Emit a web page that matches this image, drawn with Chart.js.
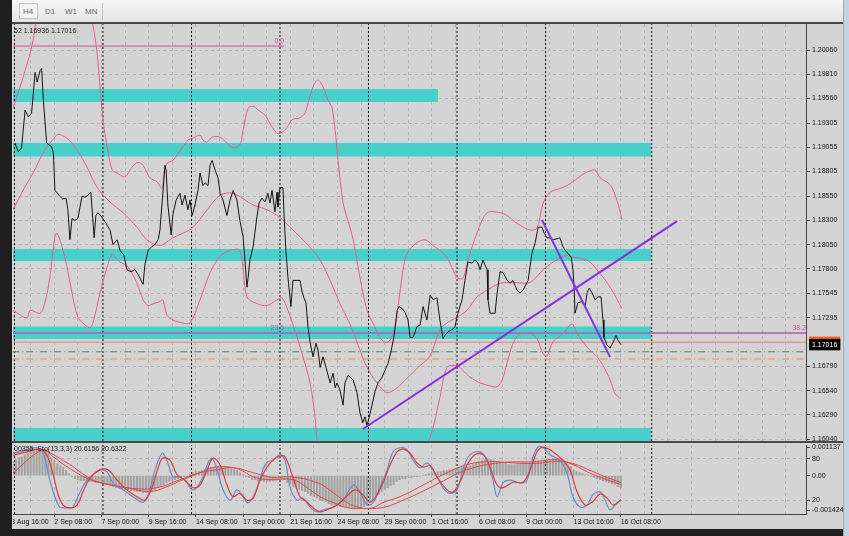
<!DOCTYPE html>
<html><head><meta charset="utf-8">
<script src="https://cdn.jsdelivr.net/npm/chart.js@4.4.0/dist/chart.umd.min.js"></script>
<style>
html,body{margin:0;padding:0;background:#1f1f1f;width:849px;height:536px;overflow:hidden;font-family:"Liberation Sans",Arial,sans-serif;}
#toolbar{position:absolute;left:12px;top:0;width:831px;height:22px;background:linear-gradient(#f7f7f7,#e4e4e4);}
#tbline{position:absolute;left:12px;top:22px;width:831px;height:2px;background:#4a4a4a;}
.tab{position:absolute;top:5px;height:14px;line-height:14px;font-size:8px;color:#666;}
#tabsel{position:absolute;left:7px;top:3px;width:19px;height:16px;border:1px solid #c4c4c4;background:#f4f4f4;box-sizing:border-box;}
#tdiv{position:absolute;left:90px;top:3px;width:1px;height:17px;background:#c8c8c8;}
#chartbg{position:absolute;left:12px;top:24px;width:831px;height:505px;background:#d4d4d4;}
#scroll{position:absolute;left:843px;top:0;width:6px;height:536px;background:#c3d3e3;border-left:1px solid #9aa8b8;box-sizing:border-box;}
#sepline{position:absolute;left:12px;top:441px;width:831px;height:2px;background:#4a4a4a;}
canvas{position:absolute;}
</style></head>
<body>
<div id="toolbar"><div id="tabsel"></div>
<span class="tab" style="left:11px">H4</span><span class="tab" style="left:33px">D1</span>
<span class="tab" style="left:53px">W1</span><span class="tab" style="left:73px">MN</span><div id="tdiv"></div></div>
<div id="tbline"></div>
<div id="chartbg"></div>
<div id="scroll"></div>
<canvas id="main" width="830" height="418" style="left:13px;top:24px"></canvas>
<div id="sepline"></div>
<canvas id="sub" width="830" height="87" style="left:13px;top:442px"></canvas>
<script>
// ---------- data (x = H4 bar number, 0 = left edge of the window) ----------
const priceTicks = [1.20060,1.19810,1.19560,1.19305,1.19055,1.18805,1.18550,1.18300,1.18050,1.17800,1.17545,1.17295,1.16790,1.16540,1.16290,1.16040];
const askPrice = 1.17040;
const bidPrice = 1.17016;
const dateLabels = ["28 Aug 16:00","2 Sep 08:00","7 Sep 00:00","9 Sep 16:00","14 Sep 08:00","17 Sep 00:00","21 Sep 16:00","24 Sep 08:00","29 Sep 00:00","1 Oct 16:00","6 Oct 08:00","9 Oct 00:00","13 Oct 16:00","16 Oct 08:00"];
const firstLabelBar = -2;
const weekSepBars = [0.5,30.5,60.5,90.5,120.5,150.5,180.5,216.5];

const priceLine = [[0.6,1.1910],[1.8,1.1901],[2.9,1.1905],[4.1,1.1944],[5.2,1.1937],[6.3,1.1941],[7.5,1.1983],[8.2,1.1973],[9.2,1.1985],[9.7,1.1987],[10.3,1.1954],[11.4,1.1910],[13.1,1.1906],[13.7,1.1900],[14.2,1.1861],[15.9,1.1855],[16.9,1.1852],[18.0,1.1853],[18.6,1.1841],[19.3,1.1810],[20.0,1.1832],[21.0,1.1830],[22.0,1.1832],[23.4,1.1855],[24.4,1.1854],[25.4,1.1856],[26.4,1.1859],[27.5,1.1812],[28.1,1.1835],[28.8,1.1838],[30.5,1.1832],[31.9,1.1825],[32.9,1.1820],[33.9,1.1805],[35.3,1.1810],[36.3,1.1799],[37.6,1.1794],[38.6,1.1779],[40.0,1.1777],[41.4,1.1779],[42.4,1.1774],[44.1,1.1764],[44.7,1.1784],[45.8,1.1799],[47.1,1.1803],[48.1,1.1805],[49.2,1.1810],[49.8,1.1820],[50.8,1.1858],[51.5,1.1887],[51.9,1.1882],[52.5,1.1846],[53.6,1.1815],[54.2,1.1836],[55.3,1.1851],[56.6,1.1858],[57.3,1.1846],[58.3,1.1856],[59.3,1.1841],[60.0,1.1851],[60.7,1.1835],[61.7,1.1846],[62.7,1.1861],[63.4,1.1879],[64.4,1.1866],[65.1,1.1869],[66.1,1.1866],[66.8,1.1887],[67.5,1.1892],[68.5,1.1882],[69.5,1.1874],[70.2,1.1858],[71.2,1.1851],[72.5,1.1835],[73.6,1.1851],[74.6,1.1861],[75.9,1.1851],[76.9,1.1830],[78.0,1.1813],[79.3,1.1761],[79.7,1.1771],[80.3,1.1789],[81.4,1.1803],[82.7,1.1834],[83.4,1.1848],[84.4,1.1853],[85.4,1.1849],[86.4,1.1858],[87.1,1.1848],[87.8,1.1861],[88.8,1.1839],[89.5,1.1859],[89.8,1.1844],[90.5,1.1864],[91.5,1.1864],[91.9,1.1834],[92.5,1.1799],[93.2,1.1771],[94.2,1.1741],[94.9,1.1768],[96.3,1.1768],[97.3,1.1768],[98.0,1.1756],[98.6,1.1750],[99.3,1.1745],[100.0,1.1720],[100.7,1.1704],[101.7,1.1689],[102.7,1.1703],[103.4,1.1696],[104.1,1.1678],[105.1,1.1689],[106.1,1.1678],[107.5,1.1662],[108.5,1.1672],[109.2,1.1657],[109.8,1.1662],[110.8,1.1655],[111.9,1.1639],[112.5,1.1662],[113.6,1.1670],[115.3,1.1665],[116.6,1.1652],[117.6,1.1631],[118.6,1.1621],[119.3,1.1627],[120.0,1.1618],[120.7,1.1626],[121.7,1.1639],[122.7,1.1653],[123.7,1.1662],[125.1,1.1668],[126.1,1.1675],[127.1,1.1682],[128.1,1.1694],[129.2,1.1711],[130.2,1.1737],[130.8,1.1741],[131.9,1.1739],[132.9,1.1735],[133.9,1.1727],[134.6,1.1709],[135.6,1.1709],[136.9,1.1720],[138.0,1.1722],[139.0,1.1741],[140.3,1.1727],[141.4,1.1753],[142.4,1.1748],[143.7,1.1750],[144.7,1.1727],[145.8,1.1708],[146.4,1.1711],[147.5,1.1715],[148.8,1.1717],[149.8,1.1720],[150.8,1.1734],[152.2,1.1748],[153.2,1.1768],[154.2,1.1787],[155.6,1.1786],[156.6,1.1789],[157.6,1.1786],[158.3,1.1779],[159.3,1.1789],[160.7,1.1779],[161.0,1.1748],[161.7,1.1734],[163.4,1.1734],[164.1,1.1755],[165.1,1.1777],[166.1,1.1776],[167.5,1.1768],[168.5,1.1765],[169.5,1.1768],[170.8,1.1758],[171.9,1.1755],[172.9,1.1758],[174.6,1.1768],[175.9,1.1796],[177.0,1.1807],[178.0,1.1823],[179.3,1.1823],[180.0,1.1817],[181.0,1.1812],[182.0,1.1812],[183.1,1.1810],[184.4,1.1811],[185.4,1.1812],[186.4,1.1803],[187.1,1.1799],[188.1,1.1796],[189.2,1.1792],[189.8,1.1779],[190.2,1.1761],[190.5,1.1734],[191.5,1.1745],[192.9,1.1746],[193.9,1.1741],[194.6,1.1755],[195.3,1.1760],[196.3,1.1755],[197.3,1.1748],[198.3,1.1751],[199.3,1.1751],[200.0,1.1727],[200.3,1.1709],[201.4,1.1701],[202.4,1.1698],[203.4,1.1704],[204.4,1.1711],[205.1,1.1706],[206.1,1.17016]];

const bbUpper = [[0,1.1946],[2.4,1.1968],[4.1,1.1985],[5.8,1.2003],[6.8,1.2016],[7.8,1.2035],[10.8,1.2078],[15.9,1.2109],[21,1.2104],[24.4,1.2073],[27.1,1.2032],[28.5,1.2003],[29.5,1.1968],[30.5,1.1934],[31.9,1.1906],[33.6,1.1882],[35.3,1.1879],[38.0,1.1875],[40.3,1.1885],[42.4,1.1890],[44.1,1.1887],[46.4,1.1874],[48.8,1.1870],[50.5,1.1863],[51.2,1.1879],[52.2,1.1889],[54.2,1.1892],[57.3,1.1905],[59.3,1.1913],[61.0,1.1915],[63.4,1.1918],[64.4,1.1913],[65.8,1.1911],[67.5,1.1916],[70.2,1.1916],[72.5,1.1910],[74.6,1.1905],[76.9,1.1908],[78.0,1.1923],[79.7,1.1946],[81.4,1.1948],[83.1,1.1944],[85.4,1.1939],[87.1,1.1930],[89.5,1.1920],[91.2,1.1921],[92.9,1.1926],[94.6,1.1934],[97.3,1.1936],[99.0,1.1941],[100.0,1.1951],[101.7,1.1968],[103.4,1.1975],[105.1,1.1968],[106.8,1.1954],[108.1,1.1947],[109.2,1.1923],[110.2,1.1892],[111.9,1.1848],[114.2,1.1823],[115.3,1.1810],[117.6,1.1771],[120.0,1.1737],[122.0,1.1724],[124.4,1.1709],[126.1,1.1704],[127.8,1.1706],[129.5,1.1720],[130.5,1.1740],[132.2,1.1779],[133.6,1.1796],[136.9,1.1807],[139.7,1.1810],[142.4,1.1804],[144.7,1.1799],[147.1,1.1792],[150.5,1.1771],[152.5,1.1770],[154.2,1.1789],[157.3,1.1817],[160.7,1.1838],[165.1,1.1838],[167.5,1.1835],[170.8,1.1827],[175.3,1.1820],[177.6,1.1822],[179.7,1.1848],[182.0,1.1859],[185.4,1.1863],[187.8,1.1866],[189.8,1.1870],[193.9,1.1879],[197.3,1.1882],[199.0,1.1874],[202.4,1.1867],[204.7,1.1851],[206.4,1.1831]];
const bbMiddle = [[0,1.1841],[3.4,1.1861],[6.8,1.1879],[10.8,1.1903],[14.2,1.1916],[15.3,1.1919],[18.3,1.1915],[21.7,1.1903],[25.1,1.1885],[28.5,1.1864],[32.9,1.1849],[37.3,1.1838],[42.0,1.1823],[45.4,1.1810],[49.8,1.1804],[54.2,1.1812],[60.7,1.1822],[65.8,1.1841],[70.2,1.1856],[74.6,1.1858],[81.4,1.1846],[86.1,1.1841],[90.5,1.1833],[93.9,1.1823],[97.3,1.1813],[100.7,1.1802],[104.1,1.1789],[107.5,1.1768],[110.8,1.1744],[114.2,1.1723],[117.6,1.1696],[120.0,1.1678],[123.4,1.1662],[126.8,1.1652],[130.2,1.1657],[133.6,1.1667],[138.0,1.1680],[141.4,1.1690],[144.7,1.1717],[147.1,1.1724],[150.5,1.1730],[153.9,1.1737],[157.3,1.1751],[160.7,1.1758],[165.1,1.1765],[169.5,1.1766],[174.2,1.1765],[176.3,1.1768],[179.7,1.1779],[183.1,1.1787],[187.8,1.1794],[189.8,1.1792],[194.6,1.1789],[198.0,1.1779],[202.4,1.1761],[206.4,1.1739]];
const bbLower = [[0,1.1737],[4.7,1.1729],[5.8,1.1737],[9.2,1.1734],[10.8,1.1745],[12.5,1.1771],[14.2,1.1813],[14.9,1.1817],[16.6,1.1803],[18.3,1.1782],[20.0,1.1755],[22.0,1.1730],[24.4,1.1722],[26.1,1.1719],[27.1,1.1724],[29.5,1.1755],[31.9,1.1782],[33.6,1.1796],[34.6,1.1792],[36.3,1.1787],[39.0,1.1782],[42.0,1.1765],[44.1,1.1748],[45.8,1.1742],[47.5,1.1744],[49.8,1.1746],[50.8,1.1748],[52.2,1.1732],[54.2,1.1727],[57.6,1.1724],[60.0,1.1724],[63.4,1.1748],[66.8,1.1776],[70.2,1.1793],[73.6,1.1799],[76.9,1.1799],[79.3,1.1751],[82.7,1.1744],[86.1,1.1742],[89.5,1.1748],[91.2,1.1750],[93.2,1.1737],[96.3,1.1709],[98.3,1.1689],[100.7,1.1662],[102.4,1.1627],[103.1,1.1603],[105.8,1.1572],[112.5,1.1550],[121.0,1.1560],[129.5,1.1575],[136.3,1.1580],[141.4,1.1606],[144.7,1.1647],[147.1,1.1678],[150.5,1.1680],[152.5,1.1675],[154.9,1.1668],[158.3,1.1662],[161.7,1.1659],[164.1,1.1658],[165.8,1.1665],[167.5,1.1683],[169.5,1.1703],[171.9,1.1713],[175.3,1.1713],[177.6,1.1708],[179.7,1.1692],[181.0,1.1690],[183.1,1.1705],[186.4,1.1713],[189.5,1.1723],[191.2,1.1713],[194.6,1.1699],[198.0,1.1689],[200.0,1.1680],[202.4,1.1665],[204.1,1.1651],[205.8,1.1646]];

const zoneTop    = [1.19657,1.19099,1.18004,1.17203,1.16154];
const zoneBottom = [1.19523,1.18960,1.17880,1.17074,1.16000];
const zoneEndBar = [144.1,216.3,216.3,216.3,216.3];
const fibZero = 1.20102, fibZeroEndBar = 91.9;
const fibLevel = 1.17136;
const greenLevel = 1.16942, orangeLevel = 1.16867;
const trendUp = [[118.6,1.16144],[225.1,1.18293]];
const trendDown = [[179.3,1.18304],[202.4,1.16888]];

const macdHist = [0.00052,0.00059,0.00067,0.00070,0.00078,0.00085,0.00089,0.00093,0.00096,0.00096,0.00096,0.00093,0.00082,0.00067,0.00056,0.00045,0.00037,0.00030,0.00019,0.00007,
-0.00004,-0.00011,-0.00015,-0.00019,-0.00019,-0.00022,-0.00022,-0.00022,-0.00026,-0.00026,-0.00026,-0.00030,-0.00033,-0.00037,-0.00041,-0.00045,-0.00048,-0.00048,-0.00052,-0.00052,
-0.00056,-0.00056,-0.00059,-0.00059,-0.00063,-0.00063,-0.00059,-0.00056,-0.00052,-0.00045,-0.00041,-0.00033,-0.00026,-0.00022,-0.00019,-0.00015,-0.00011,-0.00007,-0.00004,-0.00004,
0.00004,0.00011,0.00015,0.00015,0.00019,0.00022,0.00026,0.00030,0.00030,0.00033,0.00033,0.00033,0.00030,0.00030,0.00026,0.00022,0.00019,0.00011,0.00004,-0.00004,
-0.00007,-0.00015,-0.00015,-0.00019,-0.00019,-0.00022,-0.00022,-0.00022,-0.00019,-0.00019,-0.00015,-0.00011,-0.00015,-0.00026,-0.00033,-0.00041,-0.00045,-0.00052,-0.00056,-0.00059,
-0.00067,-0.00074,-0.00078,-0.00082,-0.00089,-0.00093,-0.00096,-0.00104,-0.00108,-0.00108,-0.00111,-0.00115,-0.00115,-0.00119,-0.00119,-0.00122,-0.00122,-0.00119,-0.00119,-0.00115,
-0.00108,-0.00100,-0.00093,-0.00082,-0.00070,-0.00059,-0.00052,-0.00045,-0.00037,-0.00033,-0.00022,-0.00015,-0.00011,-0.00011,-0.00007,-0.00007,-0.00004,-0.00004,-0.00002,0.00001,
0.00004,0.00007,0.00011,0.00011,0.00015,0.00015,0.00019,0.00019,0.00022,0.00022,0.00026,0.00026,0.00030,0.00033,0.00033,0.00037,0.00041,0.00045,0.00052,0.00056,
0.00059,0.00059,0.00059,0.00056,0.00052,0.00048,0.00045,0.00045,0.00041,0.00041,0.00041,0.00045,0.00045,0.00048,0.00048,0.00048,0.00052,0.00052,0.00052,0.00052,
0.00056,0.00056,0.00059,0.00063,0.00063,0.00063,0.00056,0.00048,0.00041,0.00033,0.00022,0.00015,0.00011,0.00007,0.00004,0.00001,-0.00004,-0.00007,-0.00011,-0.00015,
-0.00019,-0.00022,-0.00026,-0.00030,-0.00033,-0.00041,-0.00045];
const macdMin = -0.001424, macdMax = 0.001137;
const stochLevels = [80, 20];

const stochMain = [[0,88],[4.7,93],[8.1,96],[10.2,88],[12.5,49],[14.2,25],[15.9,10],[18.3,9],[20.3,10],[22.0,25],[24.4,45],[27.1,57],[29.5,64],[31.9,61],[33.9,45],[37.3,35],[40.7,25],[44.1,17],[46.4,35],[48.1,64],[49.8,83],[50.8,88],[52.5,74],[54.2,54],[56.6,54],[59.0,45],[60.7,35],[62.4,39],[64.4,54],[66.1,74],[67.5,81],[69.2,64],[71.2,35],[73.6,20],[75.9,35],[78.0,25],[79.7,16],[82.0,30],[84.7,64],[86.1,75],[88.1,78],[90.5,86],[92.2,78],[93.9,39],[96.3,20],[98.3,23],[100.7,10],[103.1,3],[105.1,6],[108.5,10],[111.9,20],[115.3,42],[117.6,32],[120.0,13],[122.0,16],[124.4,39],[126.8,64],[128.8,90],[131.2,96],[133.6,93],[135.6,78],[138.0,67],[140.3,74],[142.4,64],[145.8,38],[148.1,30],[150.5,35],[152.5,64],[154.9,86],[158.3,90],[160.7,78],[162.7,49],[164.1,25],[166.1,45],[168.5,49],[171.9,45],[174.2,49],[176.3,83],[178.0,97],[179.7,96],[182.0,86],[185.4,78],[187.8,59],[189.8,25],[192.2,10],[194.6,13],[196.6,28],[199.0,32],[200.7,20],[202.4,6],[204.1,13],[206.1,20.6156]];
const stochSignal = [[0,85],[4.7,90],[9.2,94],[11.5,85],[13.6,57],[15.3,28],[17.0,13],[19.3,9],[21.7,13],[23.7,32],[26.1,52],[29.5,64],[32.2,64],[35.3,49],[38.6,35],[42.0,25],[44.7,20],[47.1,38],[49.2,67],[50.8,81],[53.2,78],[55.6,57],[58.3,49],[61.0,38],[63.4,42],[65.8,64],[67.8,81],[70.2,71],[72.5,42],[74.6,25],[76.9,30],[79.3,20],[81.4,23],[83.7,49],[86.1,68],[88.1,78],[90.5,84],[92.2,83],[94.6,57],[97.3,25],[99.7,17],[101.7,9],[104.1,3],[106.4,6],[109.8,13],[112.5,23],[115.9,35],[118.6,28],[121.0,17],[123.4,28],[125.8,49],[127.8,71],[130.2,90],[132.2,94],[134.6,88],[136.9,74],[139.0,68],[141.4,70],[143.7,54],[147.1,35],[149.2,32],[151.5,46],[153.9,71],[156.6,86],[159.3,86],[161.7,68],[164.1,42],[166.1,38],[169.5,46],[172.9,46],[175.3,64],[177.6,90],[179.7,97],[183.1,90],[186.4,78],[188.8,64],[191.2,32],[193.9,13],[196.3,17],[199.0,29],[201.4,23],[203.4,13],[206.1,20.6322]];
const macdLineA = [[0,0.00085],[9.2,0.00096],[18.3,0.00048],[25.1,-0.00004],[29.5,-0.00026],[38.6,-0.00045],[46.4,-0.00059],[52.2,-0.00041],[57.6,-0.00015],[63.4,0.00011],[67.8,0.00030],[72.5,0.00033],[76.9,0.00022],[81.4,-0.00004],[86.1,-0.00015],[94.9,-0.00015],[99.7,-0.00045],[104.1,-0.00078],[108.5,-0.00100],[113.2,-0.00119],[117.6,-0.00122],[122.0,-0.00119],[125.4,-0.00100],[131.2,-0.00078],[138.0,-0.00041],[145.8,0.00004],[153.9,0.00041],[161.7,0.00052],[168.5,0.00048],[176.3,0.00045],[184.4,0.00052],[189.8,0.00045],[196.6,0.00015],[201.4,-0.00007],[206.1,-0.00026]];
const macdLineB = [[0,0.00011],[10.2,0.00096],[13.6,0.00070],[18.3,0.00033],[26.1,-0.00015],[32.9,-0.00033],[40.7,-0.00048],[48.8,-0.00045],[56.6,-0.00015],[63.4,0.00011],[69.2,0.00022],[74.6,0.00030],[81.4,0.00011],[88.1,-0.00007],[93.9,-0.00004],[103.1,-0.00026],[108.5,-0.00063],[113.2,-0.00100],[117.6,-0.00119],[122.0,-0.00122],[126.8,-0.00115],[131.2,-0.00096],[138.0,-0.00063],[144.7,-0.00026],[153.9,0.00022],[165.1,0.00048],[176.3,0.00052],[184.4,0.00059],[189.8,0.00041],[196.6,0.00004],[206.1,-0.00033]];

// ---------- drawing ----------
const X_MIN = 0, X_MAX = 268.8;
const Y_MIN = 1.1602, Y_MAX = 1.2033;
const FONT = {family:'"Liberation Sans", Arial, sans-serif', size:7};
const GRID = '#b6b6b6', FRAME = '#444';
const pts = a => a.map(([x,y]) => ({x, y}));
const hseg = (y, x0, x1) => [{x:x0,y},{x:x1,y}];
const gridBars = []; for (let b = firstLabelBar; b <= X_MAX; b += 8) gridBars.push(b);

const textPlugin = {
  id: 'txt',
  afterDatasetsDraw(chart, args, opts) {
    const ctx = chart.ctx;
    (opts.items || []).forEach(it => {
      ctx.save();
      ctx.font = '7px "Liberation Sans", Arial, sans-serif';
      ctx.fillStyle = it.color;
      ctx.textAlign = it.align || 'left';
      ctx.textBaseline = it.base || 'middle';
      const x = it.px != null ? it.px : chart.scales.x.getPixelForValue(it.x);
      const y = it.py != null ? it.py : chart.scales[it.axis || 'y'].getPixelForValue(it.y);
      ctx.fillText(it.text, x + (it.dx || 0), y + (it.dy || 0));
      ctx.restore();
    });
  }
};

// main window datasets
const mainSets = [];
zoneTop.forEach((t, i) => {
  mainSets.push({data: hseg(t, -5, zoneEndBar[i]), borderColor:'rgba(0,0,0,0)', borderWidth:0, backgroundColor:'#48d1cc', fill:'+1', order:100});
  mainSets.push({data: hseg(zoneBottom[i], -5, zoneEndBar[i]), borderColor:'rgba(0,0,0,0)', borderWidth:0, fill:false, order:100});
});
weekSepBars.forEach(s => mainSets.push({data:[{x:s,y:Y_MIN},{x:s,y:Y_MAX}], borderColor:'#111', borderWidth:1, borderDash:[2,2], order:90}));
mainSets.push({data: hseg(fibZero, -5, fibZeroEndBar), borderColor:'#d6529a', borderWidth:1, order:60});
mainSets.push({data: hseg(fibLevel, -5, 300), borderColor:'#b05cb6', borderWidth:1.5, order:60});
mainSets.push({data: hseg(askPrice, -5, 300), borderColor:'#e69a8c', borderWidth:1.6, order:60});
mainSets.push({data: hseg(greenLevel, -5, 300), borderColor:'#3f8f45', borderWidth:1, borderDash:[7,3,1,3], order:60});
mainSets.push({data: hseg(orangeLevel, -5, 300), borderColor:'#f08a5a', borderWidth:1, borderDash:[7,3,1,3], order:60});
[bbUpper, bbMiddle, bbLower].forEach(a => mainSets.push({data: pts(a), borderColor:'#ec5a92', borderWidth:1, tension:0.3, order:20}));
mainSets.push({data: pts(priceLine), borderColor:'#141414', borderWidth:1, order:10});
mainSets.push({data: pts(trendUp), borderColor:'#8a2be2', borderWidth:2, order:5});
mainSets.push({data: pts(trendDown), borderColor:'#7d3be0', borderWidth:2, order:5});

const isQuote = v => Math.abs(v - bidPrice) < 1e-7 || Math.abs(v - askPrice) < 1e-7;
new Chart(document.getElementById('main'), {
  type: 'line',
  data: {datasets: mainSets},
  options: {
    responsive:false, animation:false, devicePixelRatio:1,
    layout:{padding:{top:0,bottom:1,left:0,right:0}},
    elements:{point:{radius:0}, line:{borderCapStyle:'butt'}},
    plugins:{legend:{display:false}, tooltip:{enabled:false},
      txt:{items:[
        {text:'52 1.16936 1.17016', px:1, py:7, color:'#1a1a1a'},
        {text:'0.0', x:fibZeroEndBar, y:fibZero, align:'right', base:'bottom', dy:-1, color:'#d6529a'},
        {text:'23.6', x:fibZeroEndBar, y:fibLevel, align:'right', base:'bottom', dy:-1, color:'#b05cb6'},
        {text:'38.2', x:X_MAX, y:fibLevel, align:'right', base:'bottom', dy:-1, color:'#d6529a'}
      ]}},
    scales:{
      x:{type:'linear', min:X_MIN, max:X_MAX, offset:false,
        afterBuildTicks(s){ s.ticks = gridBars.map(v => ({value:v})); },
        afterFit(s){ s.height = 0; s.paddingLeft = 0; s.paddingRight = 0; },
        ticks:{display:false},
        grid:{color:GRID, drawTicks:false, offset:false},
        border:{display:false, dash:[3,3]}},
      y:{position:'right', min:Y_MIN, max:Y_MAX,
        afterBuildTicks(s){
          const all = priceTicks.concat([askPrice, bidPrice]);
          s.ticks = all.map(v => ({value:v}));
        },
        afterFit(s){ s.width = 37; s.paddingTop = 0; s.paddingBottom = 0; },
        ticks:{font:FONT, padding:2, autoSkip:false,
          callback: v => v.toFixed(5),
          color: c => (c.tick && Math.abs(c.tick.value-bidPrice)<1e-7) ? '#ffffff' : (c.tick && Math.abs(c.tick.value-askPrice)<1e-7 ? '#ff5a1e' : '#111'),
          showLabelBackdrop: c => !!(c.tick && isQuote(c.tick.value)),
          backdropColor: c => (c.tick && Math.abs(c.tick.value-askPrice)<1e-7) ? '#ff5a1e' : '#000',
          backdropPadding:{top:1.5,bottom:1.5,left:3,right:3}},
        grid:{color: c => (c.tick && isQuote(c.tick.value)) ? 'rgba(0,0,0,0)' : GRID, tickColor: c => (c.tick && isQuote(c.tick.value)) ? 'rgba(0,0,0,0)' : FRAME, tickLength:4, drawTicks:true},
        border:{display:true, color:FRAME, dash:[3,3]}}
    }
  },
  plugins:[textPlugin]
});

// sub window datasets
const subSets = [];
weekSepBars.forEach(s => subSets.push({data:[{x:s,y:0},{x:s,y:100}], yAxisID:'yS', borderColor:'#111', borderWidth:1, borderDash:[2,2], order:90}));
subSets.push({type:'bar', data: macdHist.map((v,i)=>({x:i, y:v})), yAxisID:'yM', backgroundColor:'#a3a3a3', barThickness:1.5, order:50});
subSets.push({data: pts(macdLineB), yAxisID:'yM', borderColor:'#e04848', borderWidth:1, tension:0.4, order:30});
subSets.push({data: pts(macdLineA), yAxisID:'yM', borderColor:'#e04848', borderWidth:1, tension:0.4, order:30});
subSets.push({data: pts(stochSignal), yAxisID:'yS', borderColor:'#e23a3a', borderWidth:1.2, tension:0.35, order:20});
subSets.push({data: pts(stochMain), yAxisID:'yS', borderColor:'#6a8cc6', borderWidth:1.2, tension:0.35, order:25});

// right-hand labels of the indicator window: MACD range at top/bottom (drawn just inside the edges, as in the terminal),
// zero line, and the stochastic 80/20 levels converted onto the shared vertical span
const span = macdMax - macdMin;
const stochToMacd = s => macdMin + s / 100 * span;
const subLabels = [
  {value: macdMax - span * 2 / 69, text: String(macdMax)},
  {value: stochToMacd(stochLevels[0]), text: String(stochLevels[0])},
  {value: 0, text: '0.00'},
  {value: stochToMacd(stochLevels[1]), text: String(stochLevels[1])},
  {value: macdMin + span * 4 / 69, text: String(macdMin)}
];

const isLabelBar = v => ((v - firstLabelBar) % 16 === 0);
new Chart(document.getElementById('sub'), {
  type: 'line',
  data: {datasets: subSets},
  options: {
    responsive:false, animation:false, devicePixelRatio:1,
    layout:{padding:{top:3,bottom:0,left:0,right:0}},
    elements:{point:{radius:0}},
    plugins:{legend:{display:false}, tooltip:{enabled:false},
      txt:{items:[{text:'00355  Sto(13,3,3) 20.6156 20.6322', px:1, py:7, color:'#1a1a1a'}]}},
    scales:{
      x:{type:'linear', min:X_MIN, max:X_MAX, offset:false,
        afterBuildTicks(s){ s.ticks = gridBars.map(v => ({value:v})); },
        afterFit(s){ s.height = 15; s.paddingLeft = 0; s.paddingRight = 0; },
        ticks:{font:FONT, color:'#111', align:'start', autoSkip:false, maxRotation:0, minRotation:0, padding:1,
          callback: v => isLabelBar(v) ? dateLabels[(v - firstLabelBar) / 16] : ''},
        grid:{color:GRID, offset:false, drawTicks:true, tickLength:3,
          tickColor: c => (c.tick && isLabelBar(c.tick.value)) ? FRAME : 'rgba(0,0,0,0)'},
        border:{display:true, color:FRAME, dash:[3,3]}},
      yS:{position:'right', weight:0, min:0, max:100,
        afterBuildTicks(s){ s.ticks = stochLevels.map(v => ({value:v})); },
        afterFit(s){ s.width = 0; s.paddingTop = 0; s.paddingBottom = 0; },
        ticks:{display:false},
        grid:{color:GRID, drawTicks:false},
        border:{display:true, color:FRAME, dash:[3,3]}},
      yM:{position:'right', weight:1, min:macdMin, max:macdMax,
        afterBuildTicks(s){ s.ticks = subLabels.map(l => ({value:l.value})); },
        afterFit(s){ s.width = 37; s.paddingTop = 0; s.paddingBottom = 0; },
        ticks:{font:FONT, color:'#111', padding:2, autoSkip:false,
          callback: (v, i) => subLabels[i].text},
        grid:{drawOnChartArea:false, tickColor:FRAME, tickLength:4},
        border:{display:false}}
    }
  },
  plugins:[textPlugin]
});
</script>
</body></html>
